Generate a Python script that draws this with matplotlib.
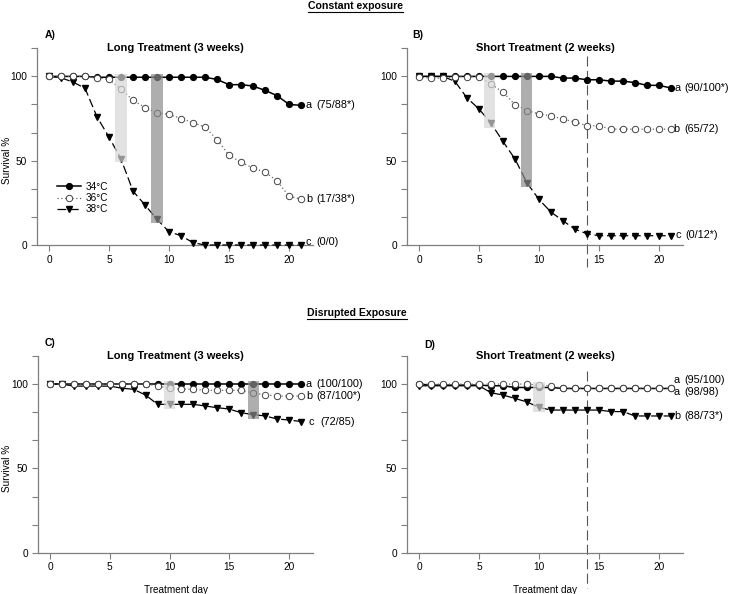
import matplotlib
matplotlib.use("Agg")
import matplotlib.pyplot as plt
from matplotlib.patches import Rectangle
from matplotlib.lines import Line2D
import numpy as np

plt.rcParams['font.family'] = ['Liberation Sans', 'DejaVu Sans']

days = list(range(22))

# Panel A: constant exposure, long treatment
A_34 = [100, 100, 100, 100, 99.5, 99.5, 99.5, 99.5, 99.5, 99.5, 99.5, 99.5, 99.5, 99.5,
        98.2, 95.1, 95.1, 94.3, 91.7, 88.6, 83.4, 82.8]
A_36 = [100, 100, 100, 100, 99.2, 98.2, 92.5, 85.8, 81.5, 78.3, 77.5, 75.0, 72.6, 70.0,
        62.5, 53.3, 49.1, 45.6, 43.2, 38.1, 29.0, 27.2]
A_38 = [100, 99.2, 96.6, 93.0, 76.0, 64.0, 51.0, 32.0, 23.7, 15.2, 7.9, 5.5, 1.4, 0,
        0, 0, 0, 0, 0, 0, 0, 0]

# Panel B: constant exposure, short treatment
B_34 = [100, 100, 100, 100, 100, 100, 100, 100, 100, 100, 100, 100, 99.0, 99.0,
        98.0, 98.0, 97.2, 97.2, 96.3, 94.7, 94.7, 93.1]
B_36 = [99.5, 99.0, 99.0, 99.8, 99.8, 99.8, 95.5, 90.6, 83.3, 79.7, 77.8, 76.6, 74.6, 73.0,
        70.7, 70.7, 68.7, 68.7, 68.7, 68.7, 68.7, 68.7]
B_38 = [100, 100, 100, 97.0, 87.2, 80.7, 72.2, 61.4, 51.0, 36.8, 27.0, 19.5, 14.4, 9.3,
        6.7, 5.5, 5.5, 5.5, 5.5, 5.5, 5.5, 5.5]

# Panel C: disrupted exposure, long treatment
C_34 = [100] * 22
C_36 = [100, 100, 100, 100, 100, 100, 100, 100, 100, 99.0, 97.4, 97.0, 97.0, 96.3,
        96.3, 96.3, 96.3, 94.7, 93.7, 92.9, 92.9, 92.9]
C_38 = [100, 100, 98.8, 98.8, 98.8, 98.8, 97.6, 96.9, 93.5, 88.0, 88.0, 88.0, 88.0, 87.0,
        86.0, 85.2, 83.0, 81.9, 81.1, 79.3, 78.7, 77.8]

# Panel D: disrupted exposure, short treatment
D_34 = [100, 99.4, 99.4, 99.4, 99.4, 99.4, 99.0, 99.0, 98.0, 98.0, 98.0, 98.0, 97.4, 97.4,
        97.4, 97.4, 97.4, 97.4, 97.4, 97.4, 97.4, 97.4]
D_36 = [100, 100, 100, 100, 100, 100, 100, 100, 100, 100, 99.4, 98.8, 97.6, 97.6,
        97.6, 97.6, 97.6, 97.6, 97.6, 97.6, 97.6, 97.6]
D_38 = [99, 99, 99, 99, 99, 99, 94.9, 93.5, 91.5, 89.4, 86.2, 84.6, 84.6, 84.6,
        84.6, 84.6, 83.7, 83.7, 81.1, 81.1, 81.1, 81.1]

# shaded sampling windows: (day, bottom, top, shade)
A_rects = [(6, 49, 101.5, 'light'), (9, 13, 101.5, 'dark')]
B_rects = [(5.9, 69.5, 102, 'light'), (8.95, 34.5, 102, 'dark')]
C_rects = [(10, 85.5, 102, 'light'), (17, 79.5, 102, 'dark')]
D_rects = [(10, 83.5, 101.5, 'light')]

# end-of-line labels: (letter, letter_x, text_x, y, text)
A_labels = [('a', 21.4, 22.3, 83, '(75/88*)'), ('b', 21.4, 22.3, 27.5, '(17/38*)'),
            ('c', 21.4, 22.3, 1.8, '(0/0)')]
B_labels = [('a', 21.3, 22.1, 93.2, '(90/100*)'), ('b', 21.2, 22.1, 68.7, '(65/72)'),
            ('c', 21.4, 22.2, 5.8, '(0/12*)')]
C_labels = [('a', 21.4, 22.3, 100, '(100/100)'), ('b', 21.4, 22.3, 93.2, '(87/100*)'),
            ('c', 21.6, 22.6, 77.6, '(72/85)')]
D_labels = [('a', 21.25, 22.1, 102.2, '(95/100)'), ('a', 21.25, 22.1, 95.5, '(98/98)'),
            ('b', 21.25, 22.1, 81.2, '(88/73*)')]

titles = ['Long Treatment (3 weeks)', 'Short Treatment (2 weeks)',
          'Long Treatment (3 weeks)', 'Short Treatment (2 weeks)']
letters = ['A)', 'B)', 'C)', 'D)']
legend_labels = ['34°C', '36°C', '38°C']

W, H = 732, 594
fig = plt.figure(figsize=(W / 100, H / 100), dpi=100)

def px_axes(left, top, right, bottom):
    return fig.add_axes([left / W, 1 - bottom / H, (right - left) / W, (bottom - top) / H])

YMAX = 100 + 100 / 6
spine_col = '#7f7f7f'

def setup(ax, xlabel):
    ax.set_xlim(-1, 22)
    ax.set_ylim(0, YMAX)
    for s in ['top', 'right']:
        ax.spines[s].set_visible(False)
    for s in ['left', 'bottom']:
        ax.spines[s].set_color(spine_col)
        ax.spines[s].set_linewidth(0.9)
    ax.set_xticks([0, 5, 10, 15, 20])
    ax.set_yticks([0, 50, 100])
    ax.set_yticks([100 / 6 * k for k in (1, 2, 4, 5, 7)], minor=True)
    ax.tick_params(axis='both', which='both', direction='out', length=4, width=0.8,
                   color=spine_col, labelsize=7.3, pad=3)
    if xlabel:
        ax.set_xlabel('Treatment day', fontsize=7.2, labelpad=9)

def draw_panel(ax, s34, s36, s38, rects, labels, vline=None):
    l1, = ax.plot(days, s34, color='black', lw=1.1, marker='o', ms=4.2,
                  mfc='black', mec='black', zorder=3, clip_on=False)
    l3, = ax.plot(days, s38, color='black', lw=0.9, ls=(0, (7, 3)), marker='v', ms=4.2,
                  mfc='black', mec='black', zorder=4, clip_on=False)
    l2, = ax.plot(days, s36, color='#666666', lw=0.9, ls=(0, (1, 2)), marker='o', ms=4.6,
                  mfc='white', mec='#444444', mew=0.7, zorder=5, clip_on=False)
    for d, b, t, shade in rects:
        fc = '#d6d6d6' if shade == 'light' else '#8c8c8c'
        ax.add_patch(Rectangle((d - 0.47, b), 0.94, t - b, facecolor=fc,
                               edgecolor='none', alpha=0.7, zorder=6, clip_on=False))
    for letter, lx, tx, y, txt in labels:
        ax.text(lx, y, letter, fontsize=7.8, va='center', ha='left', clip_on=False)
        ax.text(tx, y, txt, fontsize=7.8, va='center', ha='left', clip_on=False)
    if vline is not None:
        x, y0, y1 = vline
        ax.plot([x, x], [y0, y1], color='#555555', lw=0.8, ls=(0, (9, 4)),
                clip_on=False, zorder=2)
    return l1, l2, l3

axA = px_axes(37, 48.3, 313, 245)
axB = px_axes(407, 48.3, 683, 245)
axC = px_axes(38, 356, 313, 552.7)
axD = px_axes(407, 356, 683, 552.7)

setup(axA, False)
setup(axB, False)
setup(axC, True)
setup(axD, True)

hA = draw_panel(axA, A_34, A_36, A_38, A_rects, A_labels)
draw_panel(axB, B_34, B_36, B_38, B_rects, B_labels, vline=(14, 112, -13))
draw_panel(axC, C_34, C_36, C_38, C_rects, C_labels)
draw_panel(axD, D_34, D_36, D_38, D_rects, D_labels, vline=(14, 108, -21))

for ax in (axA, axC):
    ax.set_ylabel('Survival %', fontsize=7.2, va='center', ha='center')
    left_px = ax.get_position().x0 * W
    ax.yaxis.set_label_coords((7 - left_px) / 276, 50 / YMAX)

for ax, t in zip((axA, axB, axC, axD), titles):
    ax.text(0.5, 1.0, t, transform=ax.transAxes, ha='center', va='center',
            fontsize=8, fontweight='bold')

letter_pos = [(45, 35), (412, 35), (45, 343), (424, 345)]
for (x, y), l in zip(letter_pos, letters):
    fig.text(x / W, 1 - y / H, l, fontsize=7.5, fontweight='bold', ha='left', va='center')

leg = axA.legend(hA, legend_labels, loc='center left',
                 bbox_to_anchor=((57 - 37) / 276, (245 - 198) / 196.7),
                 frameon=False, fontsize=7.2, handlelength=2.4, handletextpad=0.5,
                 labelspacing=0.15, borderpad=0, borderaxespad=0)

# section headings (underlined)
heads = [('Constant exposure', 355, 6), ('Disrupted Exposure', 357, 313)]
fig.canvas.draw()
renderer = fig.canvas.get_renderer()
inv = fig.transFigure.inverted()
for txt, x, y in heads:
    t = fig.text(x / W, 1 - y / H, txt, fontsize=7.6, fontweight='bold',
                 ha='center', va='center')
    bb = t.get_window_extent(renderer=renderer)
    (x0, y0b), (x1, _) = inv.transform([(bb.x0, bb.y0), (bb.x1, bb.y1)])
    fig.add_artist(Line2D([x0, x1], [y0b - 1.2 / H, y0b - 1.2 / H],
                          transform=fig.transFigure, color='black', lw=0.8))

fig.savefig('out.png', dpi=100)
